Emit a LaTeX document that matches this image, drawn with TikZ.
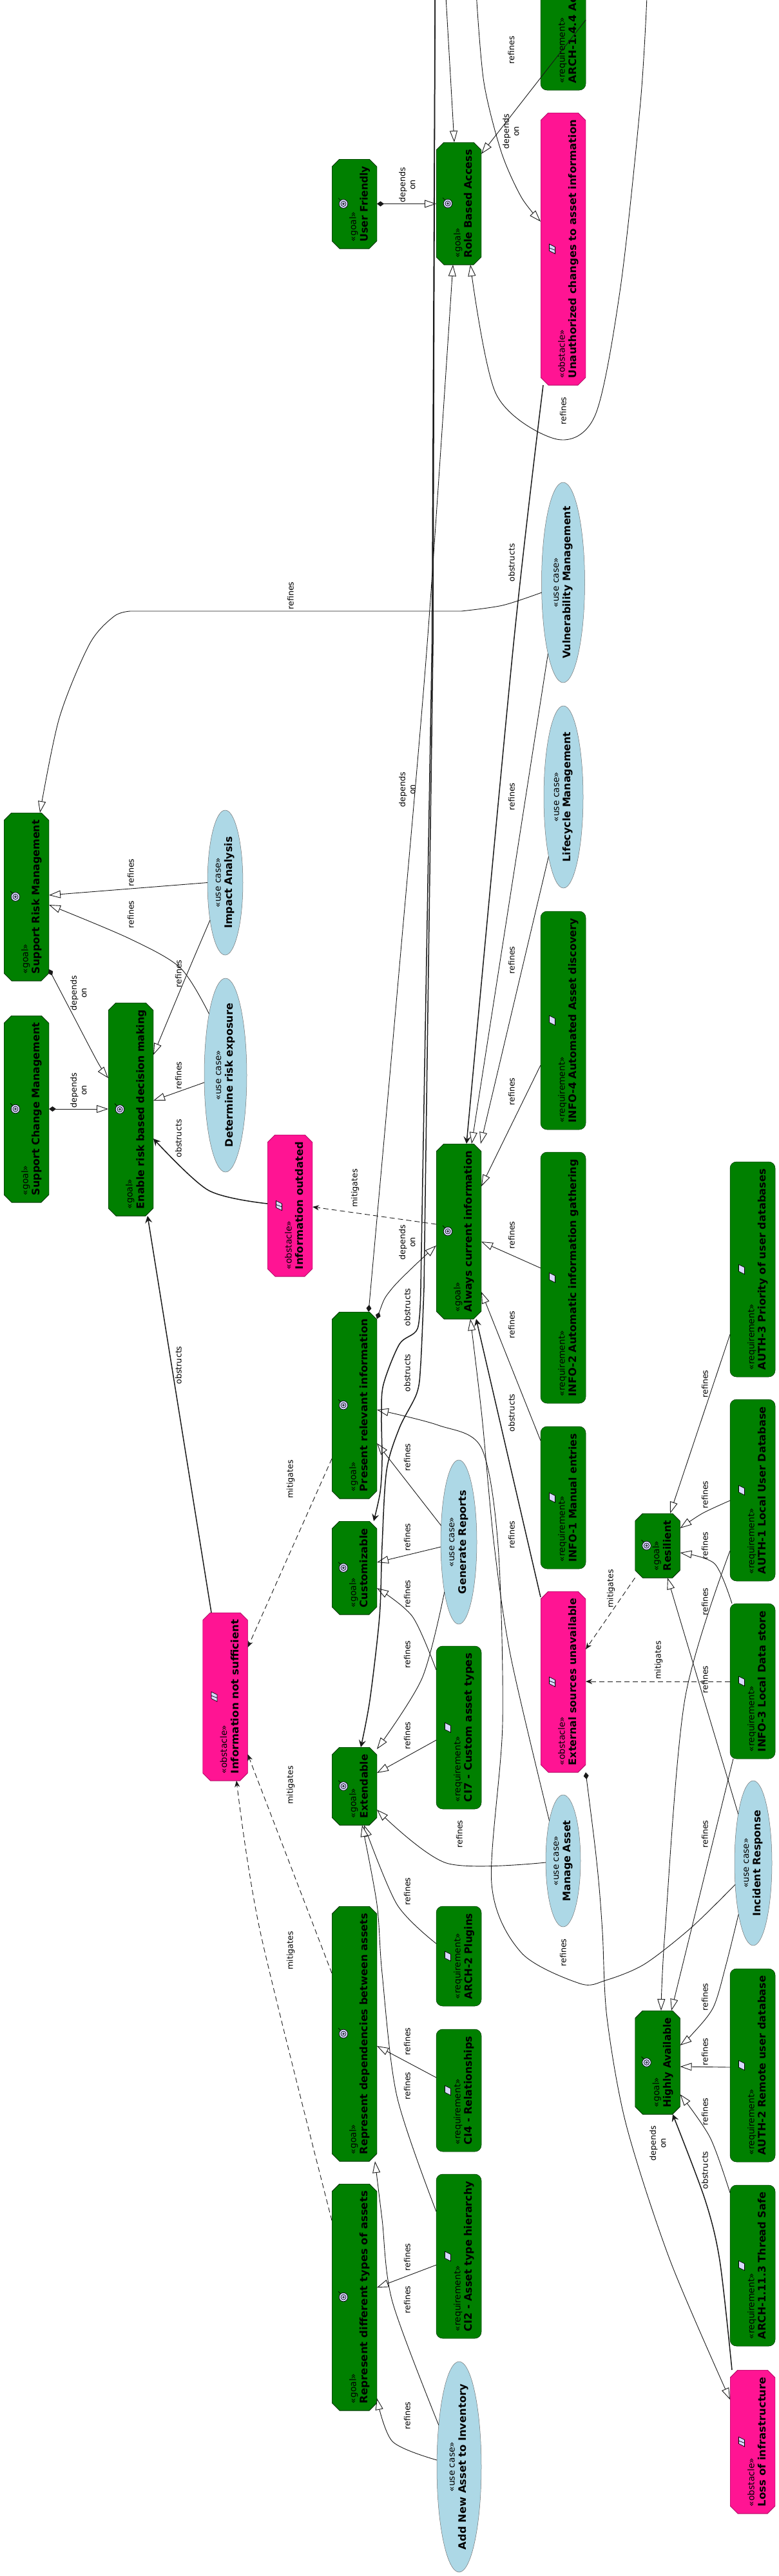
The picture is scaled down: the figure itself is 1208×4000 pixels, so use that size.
\documentclass[tikz,border=0pt]{standalone}
\usepackage{fontspec}
\usepackage{graphicx}
\setmainfont{DejaVu Sans}
\usetikzlibrary{shapes.geometric, arrows.meta}
\definecolor{goalgreen}{HTML}{008000}
\definecolor{obstaclepink}{HTML}{FF1493}
\definecolor{usecaseblue}{HTML}{ADD8E6}
\definecolor{iconlilac}{HTML}{D8D8FF}
\newcommand{\octagonpath}{([xshift=12pt]path picture bounding box.north west) -- ([xshift=-12pt]path picture bounding box.north east) -- ([yshift=-12pt]path picture bounding box.north east) -- ([yshift=12pt]path picture bounding box.south east) -- ([xshift=-12pt]path picture bounding box.south east) -- ([xshift=12pt]path picture bounding box.south west) -- ([yshift=12pt]path picture bounding box.south west) -- ([yshift=-12pt]path picture bounding box.north west) -- cycle}
\tikzstyle{goal} = [rectangle, minimum width=70pt, inner sep=0pt, outer sep=0pt, path picture={\draw[fill=goalgreen, draw=black!60!goalgreen, line width=1pt] \octagonpath;}]
\tikzstyle{obstacle} = [rectangle, minimum width=70pt, inner sep=0pt, outer sep=0pt, path picture={\draw[fill=obstaclepink, draw=black!30!obstaclepink, line width=1pt] \octagonpath;}]
\tikzstyle{requirement} = [rectangle, rounded corners=10pt, fill=goalgreen, draw=black!60!goalgreen, line width=0.5pt, minimum width=70pt, inner sep=0pt, outer sep=0pt]
\tikzstyle{usecase} = [ellipse, fill=usecaseblue, draw=black!55, line width=0.5pt, inner sep=0pt, outer sep=0pt]
\tikzstyle{refine} = [draw=black!90, line width=0.9pt, -{Triangle[open, fill=white, length=18pt, width=12pt]}]
\tikzstyle{depend} = [refine, {Diamond[fill=black!90, length=11pt, width=8pt]}-{Triangle[open, fill=white, length=18pt, width=12pt]}]
\tikzstyle{obstruct} = [draw=black!90, line width=1.5pt, -{Stealth[length=11pt, width=11pt, inset=4pt]}]
\tikzstyle{mitigate} = [draw=black!90, line width=0.9pt, dash pattern=on 8pt off 5pt, -{Stealth[length=10pt, width=8pt, inset=3pt]}]
\tikzstyle{edgelabel} = [rotate=90, align=center, inner sep=0pt, font=\fontsize{12.7}{15.5}\selectfont]
\newcommand{\boxtext}[3]{\rotatebox{90}{\makebox[\dimexpr#1pt-22pt\relax][l]{\raisebox{-11.5pt}[0pt][0pt]{\fontsize{13.8}{18}\selectfont\begin{tabular}{@{}l@{}}«#2»\\\resizebox{\dimexpr#1pt-22pt\relax}{\height}{\fontsize{16}{18}\selectfont\bfseries #3}\end{tabular}}}}}
\newcommand{\casetext}[2]{\rotatebox{90}{\makebox[0pt]{\raisebox{-2.2pt}[0pt][0pt]{\fontsize{13.8}{18}\selectfont\begin{tabular}{@{}c@{}}«use case»\\\resizebox{#1pt}{\height}{\fontsize{16}{18}\selectfont\bfseries #2}\end{tabular}}}}}

\begin{document}
\begin{tikzpicture}[x=1pt,y=-1pt]
    \useasboundingbox (0,0) rectangle (1208,4000);

    % Goals
    \node[goal, minimum height=261] (supportrisk) at (41,1392.5) {\boxtext{261}{goal}{Support Risk Management}};
    \node[goal, minimum height=290] (supportchange) at (41,1722) {\boxtext{290}{goal}{Support Change Management}};
    \node[goal, minimum height=331] (enable) at (203,1722.5) {\boxtext{331}{goal}{Enable risk based decision making}};
    \node[goal, minimum height=139] (userfriendly) at (550,316.5) {\boxtext{139}{goal}{User Friendly}};
    \node[goal, minimum height=190] (rolebased) at (712,316) {\boxtext{190}{goal}{Role Based Access}};
    \node[goal, minimum height=272] (always) at (712,1912) {\boxtext{272}{goal}{Always current information}};
    \node[goal, minimum height=290] (present) at (550,2182) {\boxtext{290}{goal}{Present relevant information}};
    \node[goal, minimum height=145] (customizable) at (550,2434.5) {\boxtext{145}{goal}{Customizable}};
    \node[goal, minimum height=121] (extendable) at (550,2773.5) {\boxtext{121}{goal}{Extendable}};
    \node[goal, minimum height=396] (repdeps) at (550,3158) {\boxtext{396}{goal}{Represent dependencies between assets}};
    \node[goal, minimum height=352] (repdiff) at (550,3567) {\boxtext{352}{goal}{Represent different types of assets}};
    \node[goal, minimum height=100] (resilient) at (1020.5,2400) {\boxtext{100}{goal}{Resilient}};
    \node[goal, minimum height=161] (highly) at (1020.5,3202.5) {\boxtext{161}{goal}{Highly Available}};

    % Obstacles
    \node[obstacle, minimum height=423] (unauthorized) at (874,386.5) {\boxtext{423}{obstacle}{Unauthorized changes to asset information}};
    \node[obstacle, minimum height=220] (outdated) at (450,1872) {\boxtext{220}{obstacle}{Information outdated}};
    \node[obstacle, minimum height=261] (notsufficient) at (349.5,2634.5) {\boxtext{261}{obstacle}{Information not sufficient}};
    \node[obstacle, minimum height=281] (external) at (874,2611.5) {\boxtext{281}{obstacle}{External sources unavailable}};
    \node[obstacle, minimum height=223] (loss) at (1168,3791.5) {\boxtext{223}{obstacle}{Loss of infrastructure}};

    % Requirements
    \node[requirement, minimum height=156] (arch144) at (874,62) {\boxtext{156}{requirement}{ARCH-1.4.4 Ac}};
    \node[requirement, minimum height=339] (info4) at (874,1584.5) {\boxtext{339}{requirement}{INFO-4 Automated Asset discovery}};
    \node[requirement, minimum height=390] (info2) at (874,1984) {\boxtext{390}{requirement}{INFO-2 Automatic information gathering}};
    \node[requirement, minimum height=221] (info1) at (874,2325.5) {\boxtext{221}{requirement}{INFO-1 Manual entries}};
    \node[requirement, minimum height=334] (auth3) at (1168,1971) {\boxtext{334}{requirement}{AUTH-3 Priority of user databases}};
    \node[requirement, minimum height=282] (auth1) at (1168,2314) {\boxtext{282}{requirement}{AUTH-1 Local User Database}};
    \node[requirement, minimum height=241] (info3) at (1168,2610.5) {\boxtext{241}{requirement}{INFO-3 Local Data store}};
    \node[requirement, minimum height=253] (ci7) at (712,2682.5) {\boxtext{253}{requirement}{CI7 - Custom asset types}};
    \node[requirement, minimum height=155] (arch2) at (712,3037.5) {\boxtext{155}{requirement}{ARCH-2 Plugins}};
    \node[requirement, minimum height=190] (ci4) at (712,3246) {\boxtext{190}{requirement}{CI4 - Relationships}};
    \node[requirement, minimum height=255] (ci2) at (712,3503.5) {\boxtext{255}{requirement}{CI2 - Asset type hierarchy}};
    \node[requirement, minimum height=300] (auth2) at (1168,3207) {\boxtext{300}{requirement}{AUTH-2 Remote user database}};
    \node[requirement, minimum height=250] (arch1113) at (1168,3518) {\boxtext{250}{requirement}{ARCH-1.11.3 Thread Safe}};

    % Use cases
    \node[usecase, minimum width=67, minimum height=311] (vulnerability) at (874,904.5) {\casetext{236.7}{Vulnerability Management}};
    \node[usecase, minimum width=61, minimum height=283] (lifecycle) at (874.5,1237.5) {\casetext{202}{Lifecycle Management}};
    \node[usecase, minimum width=55, minimum height=225] (impact) at (349.5,1370.5) {\casetext{142.7}{Impact Analysis}};
    \node[usecase, minimum width=66, minimum height=301] (determine) at (350,1669.5) {\casetext{223}{Determine risk exposure}};
    \node[usecase, minimum width=56, minimum height=255] (generate) at (712,2394.5) {\casetext{161}{Generate Reports}};
    \node[usecase, minimum width=54, minimum height=205] (manage) at (874,2889.5) {\casetext{126}{Manage Asset}};
    \node[usecase, minimum width=58, minimum height=256] (incident) at (1169,2893) {\casetext{164.5}{Incident Response}};
    \node[usecase, minimum width=69, minimum height=327] (addnew) at (712.5,3830.5) {\casetext{257}{Add New Asset to Inventory}};

    % Icons
    \foreach \n in {supportrisk,supportchange,enable,userfriendly,rolebased,always,present,customizable,extendable,repdeps,repdiff,resilient,highly} {
        \begin{scope}[shift={([xshift=18pt]\n.west)}, line width=0.7pt]
            \draw (-4,-5) -- (-8,-9);
            \draw[fill=iconlilac] (0,0) circle (6.8pt);
            \draw (0,0) circle (4pt) (0,0) circle (1.3pt);
        \end{scope}
    }
    \foreach \n in {info4,info2,info1,auth3,auth1,info3,ci7,arch2,ci4,ci2,auth2,arch1113} {
        \draw[fill=iconlilac, line width=0.7pt, shift={([xshift=18pt]\n.west)}] (-4.5,-7.5) -- (4.5,-3) -- (4.5,7.5) -- (-4.5,3) -- cycle;
    }
    \foreach \n in {unauthorized,outdated,notsufficient,external,loss} {
        \draw[fill=iconlilac, line width=0.7pt, shift={([xshift=18pt]\n.west)}] (-4.5,-7.5) -- (4.5,-3) -- (4.5,7.5) -- (-4.5,3) -- cycle (-4.5,-1.5) -- (4.5,2);
    }

    % Ends that leave the picture at the top
    \coordinate (offroleleft) at (692,-5);
    \coordinate (offobstruct) at (675.2,-5);
    \coordinate (offunauth) at (739.5,-5);
    \coordinate (offrole) at (1004,-5);

    % Refines
    \draw[refine] (offroleleft) -- (705,0 |- rolebased.north);
    \draw[refine] (arch144.east |- 0,31) -- (rolebased.east |- 0,239);
    \draw[refine] plot[smooth] coordinates {(offrole) (994,159) (963,446) (924,644) (864,682) (770,612) (730,0 |- rolebased.south)};
    \draw[refine] plot[smooth] coordinates {(vulnerability.-155) (780,940) (716,949)} -- (202,949) -- plot[smooth] coordinates {(202,949) (177,957) (139,1000) (92,1115) (62,0 |- supportrisk.north)};
    \draw[refine] (impact.west) -- (supportrisk.east |- 0,1390);
    \draw[refine] plot[smooth] coordinates {(determine.105) (280,1503) (200,1457) (supportrisk.east |- 0,1405)};
    \draw[refine] plot[smooth] coordinates {(impact.-112) (290,1513) (enable.east |- 0,1638)};
    \draw[refine] (determine.-161) -- (enable.east |- 0,1709);
    \draw[refine] (lifecycle.-104) -- (746,0 |- always.north);
    \draw[refine] (vulnerability.-102) -- (732,0 |- always.north);
    \draw[refine] (info4.west |- 0,1654) -- (always.east |- 0,1842);
    \draw[refine] (info2.west |- 0,1969) -- (always.east |- 0,1928);
    \draw[refine] (info1.west |- 0,2237) -- (always.east |- 0,2006);
    \draw[refine] plot[smooth] coordinates {(manage.109) (793,2574) (767,2400) (748,2200) (730,0 |- always.south)};
    \draw[refine] (generate.137) -- (present.east |- 0,2241);
    \draw[refine] (generate.-165) -- (customizable.east |- 0,2426);
    \draw[refine] plot[smooth] coordinates {(generate.-106) (655,2606) (extendable.east |- 0,2716)};
    \draw[refine] plot[smooth] coordinates {(ci7.west |- 0,2593) (640,2510) (customizable.east |- 0,2466)};
    \draw[refine] (ci7.west |- 0,2702) -- (extendable.east |- 0,2753);
    \draw[refine] plot[smooth] coordinates {(manage.west |- 0,2892) (693,2893) (extendable.east |- 0,2810)};
    \draw[refine] plot[smooth] coordinates {(incident.-130) (1073,2993) (1000,3050) (940,3075) (900,3080) (809,3032) (763,2925) (780,2676) (773,2400) (747,2248) (680,2213) (present.east |- 0,2189)};
    \draw[refine] plot[smooth] coordinates {(arch2.west |- 0,3018) (616,2957) (565,0 |- extendable.south)};
    \draw[refine] plot[smooth] coordinates {(ci2.west |- 0,3434) (616,3255) (593,3064) (585,2957) (562,0 |- extendable.south)};
    \draw[refine] (ci4.west |- 0,3226) -- (repdeps.east |- 0,3177);
    \draw[refine] (ci2.west |- 0,3517) -- (repdiff.east |- 0,3552);
    \draw[refine] plot[smooth] coordinates {(addnew.163) (609,3791) (repdiff.east |- 0,3724)};
    \draw[refine] plot[smooth] coordinates {(addnew.116) (609,3574) (593,3446) (582,0 |- repdeps.south)};
    \draw[refine] (auth3.west |- 0,2072) -- (1040,0 |- resilient.north);
    \draw[refine] plot[smooth] coordinates {(auth1.west |- 0,2330) (1090,2350) (resilient.east |- 0,2373)};
    \draw[refine] plot[smooth] coordinates {(1136,0 |- info3.north) (1109,2428) (resilient.east |- 0,2411)};
    \draw[refine] (incident.107) -- (1036,0 |- resilient.south);
    \draw[refine] plot[smooth] coordinates {(auth1.west |- 0,2408) (1063,2638) (1032,3000) (1026,0 |- highly.north)};
    \draw[refine] (1138,0 |- info3.south) -- (1042,0 |- highly.north);
    \draw[refine] plot[smooth] coordinates {(incident.-106) (1127,3050) (1107,3117) (1073,3160) (highly.east |- 0,3176)};
    \draw[refine] (auth2.west |- 0,3210) -- (highly.east |- 0,3209);
    \draw[refine] plot[smooth] coordinates {(arch1113.west |- 0,3405) (1102,3319) (highly.east |- 0,3252)};

    % Depends on
    \draw[depend] (userfriendly.east) -- (rolebased.west |- userfriendly.east);
    \draw[refine] plot[smooth] coordinates {(offunauth) (751,128) (778,236) (809,306) (unauthorized.west |- 0,344)};
    \draw[depend] plot[smooth] coordinates {(572,0 |- present.north) (620,1500) (663,1000) (703,0 |- rolebased.south)};
    \draw[depend] plot[smooth] coordinates {(present.east |- 0,2048) (609,2000) (always.west |- 0,1934)};
    \draw[depend] (supportchange.east) -- (enable.west |- supportchange.east);
    \draw[depend] plot[smooth] coordinates {(supportrisk.east |- 0,1505) (110,1570) (152,1650) (enable.west |- 0,1674)};
    \draw[depend] plot[smooth] coordinates {(external.east |- 0,2752) (927,2900) (935,3000) (942,3133) (972,3300) (1040,3510) (loss.west |- 0,3726)};

    % Obstructs
    \draw[obstruct] plot[smooth] coordinates {(843,0 |- unauthorized.south) (797,1000) (724,0 |- always.north)};
    \draw[obstruct] (offobstruct) -- (670.5,1000) -- (653,2000) -- plot[smooth] coordinates {(653,2000) (648,2063) (620,2087) (595,2150) (592,2200) (593,2267) (590,2317) (580,0 |- customizable.north)};
    \draw[obstruct] (offobstruct) -- (672,1000) -- (658,2000) -- plot[smooth] coordinates {(658,2000) (653,2117) (647,2163) (620,2217) (600,2283) (593,2400) (589,2510) (574,2640) (560,0 |- extendable.north)};
    \draw[obstruct] plot[smooth] coordinates {(outdated.west |- 0,1869) (323,1848) (enable.east |- 0,1768)};
    \draw[obstruct] (328,0 |- notsufficient.north) -- (229,0 |- enable.south);
    \draw[obstruct] (external.west |- 0,2480) -- (739,0 |- always.south);
    \draw[obstruct] plot[smooth] coordinates {(1136,0 |- loss.north) (1117,3510) (1094,3415) (1044,0 |- highly.south)};

    % Mitigates
    \draw[mitigate] (always.west |- 0,1901) -- (outdated.east |- 0,1874);
    \draw[mitigate] (present.west |- 0,2265) -- (notsufficient.east |- 0,2558);
    \draw[mitigate] (repdeps.west |- 0,3064) -- (notsufficient.east |- 0,2724);
    \draw[mitigate] plot[smooth] coordinates {(repdiff.west |- 0,3448) (404,3000) (367,0 |- notsufficient.south)};
    \draw[mitigate] (resilient.west |- resilient.south) -- (external.east |- 0,2561);
    \draw[mitigate] (info3.west |- 0,2611) -- (external.east |- 0,2611);

    % Labels
    \node[edgelabel] (lab1) at (793.5,78) {refines};
    \node[edgelabel] (lab2) at (793,204) {depends\\on};
    \node[edgelabel] (lab3) at (632,287) {depends\\on};
    \node[edgelabel] (lab4) at (874,638) {refines};
    \node[edgelabel] (lab5) at (794,874) {obstructs};
    \node[edgelabel] (lab6) at (451,925) {refines};
    \node[edgelabel] (lab7) at (632,1226) {depends\\on};
    \node[edgelabel] (lab8) at (794,1237) {refines};
    \node[edgelabel] (lab9) at (203,1355) {refines};
    \node[edgelabel] (lab10) at (203,1420) {refines};
    \node[edgelabel] (lab11) at (794,1491) {refines};
    \node[edgelabel] (lab12) at (277,1512) {refines};
    \node[edgelabel] (lab13) at (122,1542) {depends\\on};
    \node[edgelabel] (lab14) at (277,1670) {refines};
    \node[edgelabel] (lab15) at (122,1693) {depends\\on};
    \node[edgelabel] (lab16) at (794,1695) {refines};
    \node[edgelabel] (lab17) at (277,1768) {obstructs};
    \node[edgelabel] (lab18) at (551,1845) {mitigates};
    \node[edgelabel] (lab19) at (794,1918) {refines};
    \node[edgelabel] (lab20) at (632,1929) {depends\\on};
    \node[edgelabel] (lab21) at (632,2030) {obstructs};
    \node[edgelabel] (lab22) at (794,2057) {refines};
    \node[edgelabel] (lab23) at (277,2120) {obstructs};
    \node[edgelabel] (lab24) at (632,2132) {obstructs};
    \node[edgelabel] (lab25) at (1094,2149) {refines};
    \node[edgelabel] (lab26) at (794,2194) {obstructs};
    \node[edgelabel] (lab27) at (632,2263) {refines};
    \node[edgelabel] (lab28) at (451,2297) {mitigates};
    \node[edgelabel] (lab29) at (1094,2321) {refines};
    \node[edgelabel] (lab30) at (794,2383) {refines};
    \node[edgelabel] (lab31) at (632,2387) {refines};
    \node[edgelabel] (lab32) at (1094,2400) {refines};
    \node[edgelabel] (lab33) at (948,2467) {mitigates};
    \node[edgelabel] (lab34) at (632,2475) {refines};
    \node[edgelabel] (lab35) at (1094,2487) {refines};
    \node[edgelabel] (lab36) at (632,2569) {refines};
    \node[edgelabel] (lab37) at (1022,2578) {mitigates};
    \node[edgelabel] (lab38) at (1094,2608) {refines};
    \node[edgelabel] (lab39) at (632,2695) {refines};
    \node[edgelabel] (lab40) at (451,2772) {mitigates};
    \node[edgelabel] (lab41) at (713,2848) {refines};
    \node[edgelabel] (lab42) at (1094,2848) {refines};
    \node[edgelabel] (lab43) at (632,2937) {refines};
    \node[edgelabel] (lab44) at (451,3029) {mitigates};
    \node[edgelabel] (lab45) at (874,3032) {refines};
    \node[edgelabel] (lab46) at (1094,3101) {refines};
    \node[edgelabel] (lab47) at (632,3170) {refines};
    \node[edgelabel] (lab48) at (1094,3186) {refines};
    \node[edgelabel] (lab49) at (632,3239) {refines};
    \node[edgelabel] (lab50) at (1094,3279) {refines};
    \node[edgelabel] (lab51) at (1021,3328) {depends\\on};
    \node[edgelabel] (lab52) at (1094,3370) {obstructs};
    \node[edgelabel] (lab53) at (632,3505) {refines};
    \node[edgelabel] (lab54) at (632,3571) {refines};
    \node[edgelabel] (lab55) at (632,3751) {refines};
\end{tikzpicture}
\end{document}
